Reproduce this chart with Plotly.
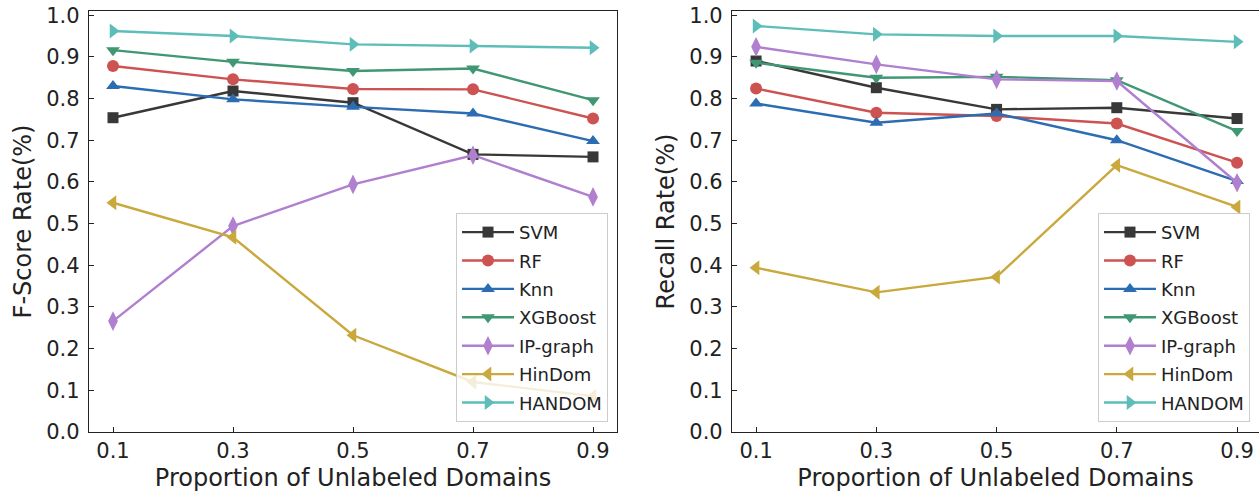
import plotly.graph_objects as go

x_vals = [0.1, 0.3, 0.5, 0.7, 0.9]
x_labels = ["0.1", "0.3", "0.5", "0.7", "0.9"]
methods = ["SVM", "RF", "Knn", "XGBoost", "IP-graph", "HinDom", "HANDOM"]

fscore_svm = [0.754, 0.818, 0.790, 0.666, 0.660]
fscore_rf = [0.878, 0.846, 0.823, 0.822, 0.752]
fscore_knn = [0.830, 0.798, 0.780, 0.764, 0.698]
fscore_xgb = [0.916, 0.888, 0.866, 0.872, 0.796]
fscore_ip = [0.266, 0.494, 0.594, 0.664, 0.564]
fscore_hindom = [0.550, 0.467, 0.232, 0.120, 0.086]
fscore_handom = [0.962, 0.950, 0.930, 0.926, 0.922]

recall_svm = [0.890, 0.826, 0.774, 0.778, 0.752]
recall_rf = [0.824, 0.766, 0.758, 0.740, 0.646]
recall_knn = [0.788, 0.742, 0.764, 0.700, 0.602]
recall_xgb = [0.886, 0.850, 0.852, 0.844, 0.722]
recall_ip = [0.924, 0.882, 0.846, 0.842, 0.598]
recall_hindom = [0.394, 0.335, 0.372, 0.640, 0.540]
recall_handom = [0.974, 0.954, 0.950, 0.950, 0.936]

y_ticks = [i / 10 for i in range(11)]
y_tick_labels = [f"{v:.1f}" for v in y_ticks]

fscore = [fscore_svm, fscore_rf, fscore_knn, fscore_xgb, fscore_ip, fscore_hindom, fscore_handom]
recall = [recall_svm, recall_rf, recall_knn, recall_xgb, recall_ip, recall_hindom, recall_handom]

colors = ["#383838", "#cc5352", "#2b6cb3", "#3f9773", "#b07fcf", "#c9a83d", "#5dbdb8"]
symbols = ["square", "circle", "triangle-up", "triangle-down", "diamond-tall", "triangle-left", "triangle-right"]
sizes = [11, 12, 12, 12, 14, 13, 13]

FONT = "DejaVu Sans"
TXT = "#222222"

fig = go.Figure()
for i, m in enumerate(methods):
    fig.add_trace(go.Scatter(
        x=x_vals, y=fscore[i], name=m, mode="lines+markers",
        line=dict(color=colors[i], width=2.4),
        marker=dict(symbol=symbols[i], size=sizes[i], color=colors[i], line=dict(width=0)),
        xaxis="x", yaxis="y", legend="legend", legendgroup="L" + m,
    ))
for i, m in enumerate(methods):
    fig.add_trace(go.Scatter(
        x=x_vals, y=recall[i], name=m, mode="lines+markers",
        line=dict(color=colors[i], width=2.4),
        marker=dict(symbol=symbols[i], size=sizes[i], color=colors[i], line=dict(width=0)),
        xaxis="x2", yaxis="y2", legend="legend2", legendgroup="R" + m,
    ))

axis_common = dict(
    showgrid=False, zeroline=False, showline=True, mirror=True,
    linecolor="#222222", linewidth=1.3,
    ticks="inside", ticklen=5, tickwidth=1.2, tickcolor="#222222",
    tickfont=dict(family=FONT, size=21, color=TXT),
    automargin=False,
)

xcommon = dict(axis_common, tickmode="array", tickvals=x_vals, ticktext=x_labels,
               ticklabelstandoff=0,
               title=dict(text="Proportion of Unlabeled Domains",
                          font=dict(family=FONT, size=24, color=TXT), standoff=6))
ycommon = dict(axis_common, tickmode="array", tickvals=y_ticks, ticktext=y_tick_labels,
               ticklabelstandoff=4, range=[0, 1.01])

legend_common = dict(
    font=dict(family=FONT, size=18, color=TXT),
    bgcolor="rgba(255,255,255,0.8)", bordercolor="#cccccc", borderwidth=1,
    tracegroupgap=2, itemwidth=52, traceorder="grouped",
    xanchor="right", yanchor="bottom", y=0.024,
)

fig.update_layout(
    width=1259, height=498,
    margin=dict(l=89, r=0, t=11, b=66),
    plot_bgcolor="white", paper_bgcolor="white",
    font=dict(family=FONT, color=TXT),
    xaxis=dict(xcommon, domain=[0, 0.4513], range=[0.06, 0.94], anchor="y"),
    yaxis=dict(ycommon, anchor="x",
               title=dict(text="F-Score Rate(%)", font=dict(family=FONT, size=24, color=TXT), standoff=7)),
    xaxis2=dict(xcommon, domain=[0.5496, 1.0], range=[0.06, 0.9365], anchor="y2"),
    yaxis2=dict(ycommon, anchor="x2",
                title=dict(text="Recall Rate(%)", font=dict(family=FONT, size=24, color=TXT), standoff=7)),
    legend=dict(legend_common, x=0.4436),
    legend2=dict(legend_common, x=0.9923),
    showlegend=True,
)

fig.write_html("out.html", config={"displayModeBar": False},
               post_script="document.body.style.margin='0';document.body.style.overflow='hidden';")
